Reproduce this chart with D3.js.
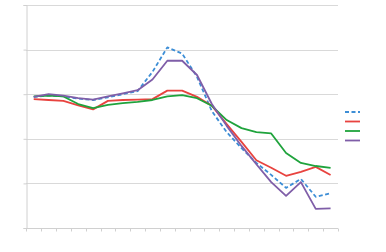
<!DOCTYPE html>
<html>
<head>
<meta charset="utf-8">
<script src="https://cdn.jsdelivr.net/npm/d3@7"></script>
<style>
  body { margin: 0; background: #fff; }
  svg { display: block; font-family: "Liberation Sans", Arial, sans-serif; }
</style>
</head>
<body>
<div id="container"></div>
<script>
const margin = {top: 5, right: 48, bottom: 24, left: 26};
const w = 386;
const h = 252;

// DATA
const categories = d3.range(1, 22).map(String);
const yTicks = [0, 1, 2, 3, 4, 5];
const seriesNames = ["Series 1", "Series 2", "Series 3", "Series 4"];
const seriesColors = ["#3d8ed6", "#e8433f", "#1fa33c", "#7f5ea8"];
const seriesDash = ["4,2.5", null, null, null];

const blueValues = [2.94, 2.97, 2.95, 2.90, 2.87, 2.93, 3.00, 3.07, 3.50, 4.05, 3.91, 3.39, 2.62, 2.15, 1.79, 1.46, 1.19, 0.90, 1.10, 0.70, 0.78];
const redValues = [2.89, 2.87, 2.85, 2.75, 2.66, 2.85, 2.87, 2.88, 2.89, 3.08, 3.08, 2.94, 2.74, 2.33, 1.93, 1.52, 1.35, 1.17, 1.26, 1.37, 1.19];
const greenValues = [2.95, 2.97, 2.95, 2.78, 2.69, 2.76, 2.80, 2.83, 2.87, 2.95, 2.98, 2.91, 2.74, 2.42, 2.24, 2.15, 2.12, 1.68, 1.46, 1.39, 1.35];
const purpleValues = [2.94, 3.00, 2.97, 2.91, 2.88, 2.95, 3.02, 3.09, 3.33, 3.75, 3.75, 3.43, 2.78, 2.29, 1.84, 1.43, 1.03, 0.72, 1.03, 0.43, 0.44];

const allSeries = [blueValues, redValues, greenValues, purpleValues];

// CHART
const chart = d3.select('#container')
                .append('svg')
                .attr('width', w)
                .attr('height', h);

chart.append('rect').attr('width', w).attr('height', h).attr('fill', '#fff');

// SCALES
const x = d3.scaleBand()
            .domain(categories)
            .range([margin.left + 0.3, w - margin.right])
            .padding(0);

const y = d3.scaleLinear()
            .domain([0, 5])
            .range([h - margin.bottom, margin.top]);

// GRIDLINES
chart.append('g')
     .selectAll('line')
     .data(yTicks.filter(d => d > 0))
     .enter()
     .append('line')
     .attr('x1', margin.left)
     .attr('x2', w - margin.right)
     .attr('y1', d => Math.round(y(d)) + 0.5)
     .attr('y2', d => Math.round(y(d)) + 0.5)
     .attr('stroke', '#d9d9d9')
     .attr('stroke-width', 1);

// Y AXIS
const yAxis = d3.axisLeft(y)
                .tickValues(yTicks)
                .tickSize(3)
                .tickFormat('');
chart.append('g')
     .attr('transform', `translate(${margin.left + 0.5},0)`)
     .call(yAxis)
     .call(g => g.selectAll('line, path').attr('stroke', '#d0d0d0'));

// X AXIS - ticks on band boundaries
const bounds = categories.map(c => x(c)).concat([x.range()[1]]);
const xAxisG = chart.append('g');
xAxisG.append('line')
      .attr('x1', margin.left)
      .attr('x2', w - margin.right)
      .attr('y1', Math.round(y(0)) + 0.5)
      .attr('y2', Math.round(y(0)) + 0.5)
      .attr('stroke', '#d0d0d0');
xAxisG.selectAll('line.tick')
      .data(bounds)
      .enter()
      .append('line')
      .attr('class', 'tick')
      .attr('x1', d => Math.round(d) + 0.5)
      .attr('x2', d => Math.round(d) + 0.5)
      .attr('y1', Math.round(y(0)) + 0.5)
      .attr('y2', Math.round(y(0)) + 3.5)
      .attr('stroke', '#d0d0d0');

// LINES
const line = d3.line()
               .x((d, i) => x(categories[i]) + x.bandwidth() / 2)
               .y(d => y(d));

chart.append('g')
     .selectAll('path')
     .data(allSeries)
     .enter()
     .append('path')
     .attr('d', d => line(d))
     .attr('fill', 'none')
     .attr('stroke', (d, i) => seriesColors[i])
     .attr('stroke-width', 1.8)
     .attr('stroke-linejoin', 'round')
     .attr('stroke-dasharray', (d, i) => seriesDash[i]);

// LEGEND
const legend = chart.append('g')
                    .attr('transform', 'translate(345,112)');
legend.selectAll('line')
      .data(seriesNames)
      .enter()
      .append('line')
      .attr('x1', 0)
      .attr('x2', 15)
      .attr('y1', (d, i) => i * 9.5)
      .attr('y2', (d, i) => i * 9.5)
      .attr('stroke', (d, i) => seriesColors[i])
      .attr('stroke-width', 1.8)
      .attr('stroke-dasharray', (d, i) => seriesDash[i]);
</script>
</body>
</html>
